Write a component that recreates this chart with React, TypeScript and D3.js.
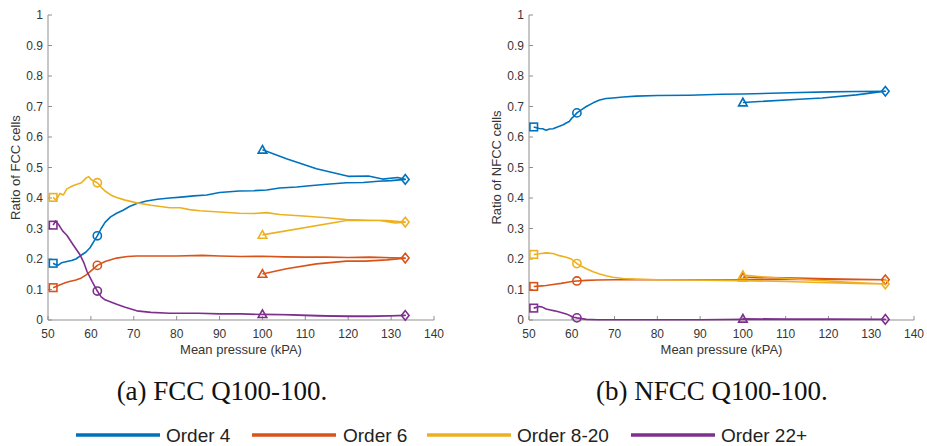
import React from "react";
import * as d3 from "d3";

type Pt = [number, number];

// ---------- Data (pressure kPa, ratio) ----------
const xTicks = [50, 60, 70, 80, 90, 100, 110, 120, 130, 140];
const yTicks = [0, 0.1, 0.2, 0.3, 0.4, 0.5, 0.6, 0.7, 0.8, 0.9, 1];
const seriesNames = ["Order 4", "Order 6", "Order 8-20", "Order 22+"];
const seriesColors = ["#0072BD", "#D95319", "#EDB120", "#7E2F8E"];

// FCC panel
const fccOrder4Load: Pt[] = [[51.2,0.186],[51.8,0.181],[52.4,0.18],[53.2,0.188],[54.4,0.192],[55.5,0.195],[56.5,0.2],[57.8,0.213],[58.8,0.222],[59.8,0.237],[60.7,0.258],[61.5,0.276],[62.4,0.3],[63.3,0.32],[64.6,0.338],[66,0.35],[67.5,0.36],[69,0.372],[70.7,0.382],[73,0.39],[75.5,0.396],[78.4,0.4],[81,0.403],[84,0.407],[87,0.41],[90,0.418],[94.6,0.423],[98,0.424],[101,0.426],[104,0.433],[108,0.436],[111,0.44],[115,0.445],[119.6,0.45],[123.5,0.451],[127,0.455],[130,0.457],[133.3,0.461]];
const fccOrder4Unload: Pt[] = [[133.3,0.461],[131.5,0.467],[128,0.462],[124.7,0.472],[120,0.471],[112.6,0.496],[105.6,0.529],[100,0.558]];
const fccOrder6Load: Pt[] = [[51.2,0.106],[52.7,0.115],[54,0.122],[55,0.126],[56.5,0.131],[57.8,0.138],[58.9,0.148],[60.1,0.162],[61.5,0.179],[63.3,0.192],[66,0.203],[68.5,0.208],[70.7,0.21],[75,0.21],[80,0.21],[86,0.212],[90,0.21],[95,0.208],[100,0.209],[105,0.207],[110,0.206],[115,0.206],[120,0.205],[125,0.206],[130,0.204],[133.3,0.203]];
const fccOrder6Unload: Pt[] = [[133.3,0.203],[129,0.197],[124,0.193],[119.6,0.193],[112.6,0.184],[105.6,0.168],[100,0.151]];
const fccOrder820Load: Pt[] = [[51.2,0.402],[51.9,0.393],[52.8,0.415],[53.6,0.41],[54.4,0.43],[55.8,0.44],[56.8,0.445],[57.8,0.45],[58.9,0.466],[59.5,0.47],[60.1,0.46],[61.5,0.45],[62.4,0.435],[63.3,0.423],[64.6,0.41],[66,0.402],[68,0.393],[70.7,0.384],[74,0.376],[78.4,0.368],[80.8,0.368],[83,0.362],[85.4,0.358],[90,0.354],[94.6,0.35],[98,0.349],[101,0.352],[104,0.346],[109.5,0.341],[115,0.335],[119.6,0.329],[125,0.327],[129,0.326],[133.3,0.321]];
const fccOrder820Unload: Pt[] = [[133.3,0.321],[131,0.318],[127.3,0.326],[119.6,0.326],[100,0.279]];
const fccOrder22Load: Pt[] = [[51.2,0.311],[51.8,0.325],[52.7,0.308],[53.4,0.292],[54.4,0.278],[55.9,0.246],[57.5,0.213],[58.3,0.19],[59.1,0.159],[60.3,0.126],[61.5,0.095],[62.4,0.076],[63.3,0.066],[66,0.052],[68,0.042],[70.7,0.03],[74,0.025],[78.4,0.022],[85,0.022],[90,0.02],[95,0.02],[100,0.018],[105,0.017],[113,0.013],[120,0.012],[126,0.013],[133.3,0.015]];
const fccOrder22Unload: Pt[] = [[133.3,0.015],[125,0.012],[115,0.014],[107,0.017],[100,0.019]];

// NFCC panel
const nfccOrder4Load: Pt[] = [[51.1,0.633],[52.4,0.628],[53.2,0.627],[54,0.622],[54.8,0.626],[55.6,0.627],[56.5,0.632],[57.1,0.635],[58,0.64],[58.7,0.646],[59.4,0.651],[59.9,0.66],[60.5,0.668],[61.2,0.679],[62.3,0.69],[63.4,0.7],[65,0.712],[66.5,0.721],[68,0.726],[69.6,0.728],[72,0.731],[75.1,0.734],[80,0.736],[87.5,0.737],[95,0.74],[100,0.741],[110.9,0.745],[120,0.748],[126.5,0.749],[133.3,0.75]];
const nfccOrder4Unload: Pt[] = [[133.3,0.75],[126.5,0.738],[118.5,0.728],[113.2,0.724],[100,0.713]];
const nfccOrder6Load: Pt[] = [[51.1,0.11],[53,0.112],[54,0.113],[56,0.117],[57.5,0.12],[59,0.124],[60,0.126],[61.2,0.128],[63.4,0.13],[66,0.131],[70,0.132],[80,0.132],[90,0.132],[100,0.132],[110,0.133],[120,0.133],[133.3,0.132]];
const nfccOrder6Unload: Pt[] = [[133.3,0.132],[120,0.135],[110,0.138],[100,0.14]];
const nfccOrder820Load: Pt[] = [[51.1,0.215],[52.4,0.217],[54,0.22],[55.6,0.218],[57.1,0.211],[58.7,0.206],[59.9,0.2],[61.2,0.185],[62.3,0.176],[63.4,0.168],[65,0.158],[66.5,0.151],[68,0.145],[69.6,0.14],[72,0.136],[75.1,0.134],[80,0.132],[87.5,0.131],[95,0.13],[100,0.129],[110,0.126],[120,0.122],[126.5,0.12],[133.3,0.118]];
const nfccOrder820Unload: Pt[] = [[133.3,0.118],[125,0.124],[115,0.132],[105,0.141],[100,0.147]];
const nfccOrder22Load: Pt[] = [[51.1,0.039],[52.4,0.044],[53,0.043],[54,0.036],[55,0.033],[56,0.03],[57.1,0.026],[58.7,0.02],[59.9,0.012],[60.5,0.009],[61.2,0.007],[63.4,0.002],[66,0.001],[75,0.001],[90,0.001],[100,0.002],[120,0.002],[133.3,0.002]];
const nfccOrder22Unload: Pt[] = [[133.3,0.002],[120,0.003],[110,0.003],[100,0.004]];

const circlePressure = 61.3;

const fccSeries = [
  { load: fccOrder4Load, unload: fccOrder4Unload },
  { load: fccOrder6Load, unload: fccOrder6Unload },
  { load: fccOrder820Load, unload: fccOrder820Unload },
  { load: fccOrder22Load, unload: fccOrder22Unload },
];
const nfccSeries = [
  { load: nfccOrder4Load, unload: nfccOrder4Unload },
  { load: nfccOrder6Load, unload: nfccOrder6Unload },
  { load: nfccOrder820Load, unload: nfccOrder820Unload },
  { load: nfccOrder22Load, unload: nfccOrder22Unload },
];

const W = 927;
const H = 446;
const FONT = "'Liberation Sans', Arial, Helvetica, sans-serif";
const AXIS_COLOR = "#8f8f8f";
const TEXT_COLOR = "#363636";

type Series = { load: Pt[]; unload: Pt[] };

function Panel({ x0, x1, y0, y1, series, ylabel, caption, captionX }: {
  x0: number; x1: number; y0: number; y1: number; series: Series[]; ylabel: string; caption: string; captionX: number;
}) {
  const x = d3.scaleLinear().domain([50, 140]).range([x0, x1]);
  const y = d3.scaleLinear().domain([0, 1]).range([y1, y0]);
  const line = d3.line<Pt>().x((d) => x(d[0])).y((d) => y(d[1]));
  const tick = 4;
  const ms = 3.8;
  return (
    <g>
      {/* axes */}
      <line x1={x0} x2={x1} y1={y1} y2={y1} stroke={AXIS_COLOR} strokeWidth={1} />
      <line x1={x0} x2={x0} y1={y0} y2={y1} stroke={AXIS_COLOR} strokeWidth={1} />
      {xTicks.map((t) => (
        <g key={"x" + t}>
          <line x1={x(t)} x2={x(t)} y1={y1} y2={y1 - tick} stroke={AXIS_COLOR} />
          <text x={x(t)} y={y1 + 18} textAnchor="middle" fontSize={12} fontFamily={FONT} fill={TEXT_COLOR}>{t}</text>
        </g>
      ))}
      {yTicks.map((t) => (
        <g key={"y" + t}>
          <line x1={x0} x2={x0 + tick} y1={y(t)} y2={y(t)} stroke={AXIS_COLOR} />
          <text x={x0 - 5} y={y(t) + 4.3} textAnchor="end" fontSize={12} fontFamily={FONT} fill={TEXT_COLOR}>{String(t)}</text>
        </g>
      ))}
      <text x={(x0 + x1) / 2} y={y1 + 34} textAnchor="middle" fontSize={13} fontFamily={FONT} fill={TEXT_COLOR}>Mean pressure (kPA)</text>
      <text transform={`translate(${x0 - 28},${(y0 + y1) / 2}) rotate(-90)`} textAnchor="middle" fontSize={13} fontFamily={FONT} fill={TEXT_COLOR}>{ylabel}</text>
      {/* series */}
      {series.map((s, i) => {
        const c = seriesColors[i];
        const all = s.load.concat(s.unload.slice(1));
        const sq = s.load[0];
        const ci = s.load.reduce((a, b) => (Math.abs(b[0] - circlePressure) < Math.abs(a[0] - circlePressure) ? b : a));
        const di = s.load[s.load.length - 1];
        const tr = s.unload[s.unload.length - 1];
        return (
          <g key={i} fill="none" stroke={c} strokeWidth={1.6}>
            <path d={line(all) || ""} strokeLinejoin="round" />
            <rect x={x(sq[0]) - ms} y={y(sq[1]) - ms} width={2 * ms} height={2 * ms} />
            <circle cx={x(ci[0])} cy={y(ci[1])} r={ms + 0.3} />
            <path d={`M${x(di[0])},${y(di[1]) - ms - 1}L${x(di[0]) + ms},${y(di[1])}L${x(di[0])},${y(di[1]) + ms + 1}L${x(di[0]) - ms},${y(di[1])}Z`} />
            <path d={`M${x(tr[0])},${y(tr[1]) - ms - 0.5}L${x(tr[0]) + ms + 0.5},${y(tr[1]) + ms - 0.5}L${x(tr[0]) - ms - 0.5},${y(tr[1]) + ms - 0.5}Z`} />
          </g>
        );
      })}
      <text x={captionX} y={400} textAnchor="middle" fontSize={27} fontFamily="'Liberation Serif', 'Times New Roman', serif" fill="#111">{caption}</text>
    </g>
  );
}

export default function App() {
  const legendItems = [
    { lx: 76, tx: 166 },
    { lx: 252, tx: 343 },
    { lx: 427, tx: 517 },
    { lx: 631, tx: 721 },
  ];
  return (
    <svg width={W} height={H} style={{ position: "absolute", left: 0, top: 0, background: "#fff" }}>
      <rect width={W} height={H} fill="#fff" />
      <Panel x0={48} x1={434} y0={15} y1={320} series={fccSeries} ylabel="Ratio of FCC cells" caption="(a) FCC Q100-100." captionX={222} />
      <Panel x0={529} x1={914} y0={15} y1={320} series={nfccSeries} ylabel="Ratio of NFCC cells" caption="(b) NFCC Q100-100." captionX={712} />
      {seriesNames.map((n, i) => (
        <g key={n}>
          <line x1={legendItems[i].lx} x2={legendItems[i].lx + 84} y1={435} y2={435} stroke={seriesColors[i]} strokeWidth={3.6} />
          <text x={legendItems[i].tx} y={442} fontSize={19} fontFamily={FONT} fill="#222">{n}</text>
        </g>
      ))}
    </svg>
  );
}
